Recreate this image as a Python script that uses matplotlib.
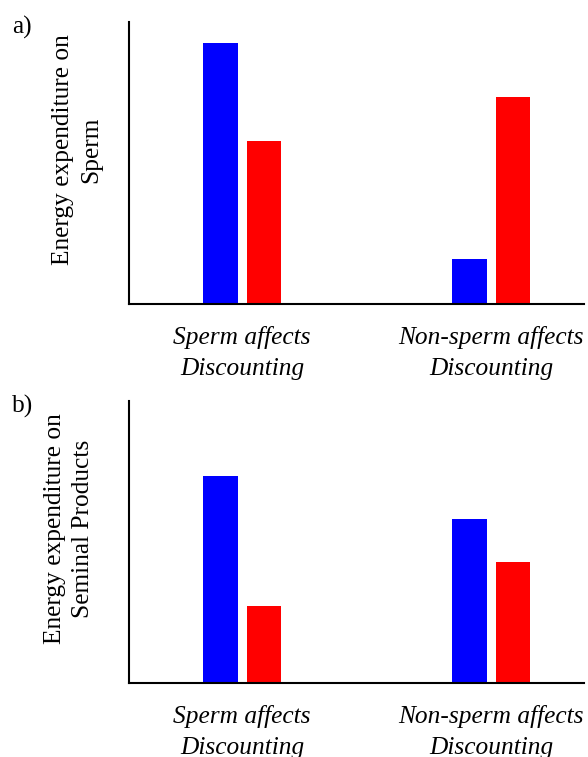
import matplotlib
matplotlib.use('Agg')
import matplotlib.pyplot as plt
import numpy as np

plt.rcParams['font.family'] = ['Liberation Serif', 'DejaVu Serif']

# data (arbitrary units, 0-100 of axis height)
groups = ['Sperm affects\nDiscounting', 'Non-sperm affects\nDiscounting']
sperm_blue = [92.6, 16.0]
sperm_red = [57.8, 73.4]
seminal_blue = [73.4, 58.2]
seminal_red = [27.3, 42.9]
panel_tags = ['a)', 'b)']
ylabels = ['Energy expenditure on\nSperm', 'Energy expenditure on\nSeminal Products']

W, H = 588, 757
fig = plt.figure(figsize=(W / 100, H / 100), dpi=100)

bar_w = 0.14
off = 0.088
x = np.arange(len(groups))
fs = 18.3

panels = [
    (sperm_blue, sperm_red, 304, -0.058),
    (seminal_blue, seminal_red, 683, -0.077),
]

for i, (blue, red, base_px, lab_x) in enumerate(panels):
    ax = fig.add_axes([129 / W, 1 - base_px / H, 455 / W, 282 / H])
    ax.bar(x - off, blue, width=bar_w, color='#0000ff')
    ax.bar(x + off, red, width=bar_w, color='#ff0000')
    ax.set_xlim(-0.454, 1.373)
    ax.set_ylim(0, 100)
    for side in ('top', 'right'):
        ax.spines[side].set_visible(False)
    for side in ('left', 'bottom'):
        ax.spines[side].set_linewidth(1.5)
    ax.set_yticks([])
    ax.set_xticks(x)
    ax.set_xticklabels(groups, fontsize=fs, style='italic', linespacing=1.5)
    ax.tick_params(axis='x', length=0, pad=16)
    ax.set_ylabel(ylabels[i], fontsize=fs, linespacing=1.38)
    ax.yaxis.set_label_coords(lab_x, 0.546)
    fig.text(12 / W, 1 - (base_px - 282 - 6) / H, panel_tags[i], fontsize=fs,
             va='top', ha='left')

fig.savefig('out.png', dpi=100)
